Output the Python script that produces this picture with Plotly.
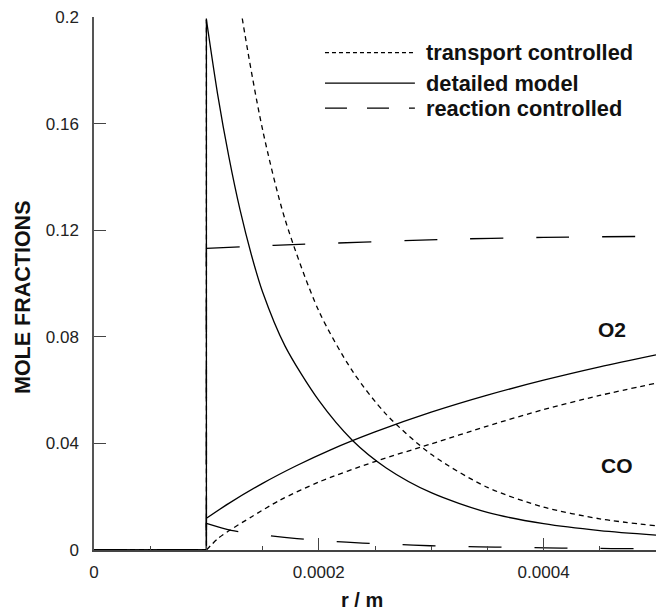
import plotly.graph_objects as go

# ---------------- data ----------------
r_inside = [0, 0.0001]   # inside the particle every fraction is 0

# outer profiles: radius r [m], mole fractions
r_co_det = [0.0001, 0.00011, 0.00012, 0.00013, 0.00014, 0.00015, 0.00017, 0.0002,
            0.00023, 0.00026, 0.0003, 0.00035, 0.0004, 0.00045, 0.0005]
y_co_det = [0.199, 0.171, 0.1475, 0.1275, 0.1108, 0.0968, 0.0765, 0.0561,
            0.0411, 0.0308, 0.0215, 0.0141, 0.0099, 0.0073, 0.0056]

r_o2_det = [0.0001, 0.00012, 0.00015, 0.00018, 0.00021, 0.00025, 0.0003, 0.00035,
            0.0004, 0.00045, 0.0005]
y_o2_det = [0.0119, 0.0175, 0.025, 0.0316, 0.0375, 0.0443, 0.0517, 0.0581,
            0.0637, 0.0687, 0.0732]

r_co_tr = [0.0001, 0.000115, 0.0001317, 0.00015, 0.00017, 0.0002, 0.00023, 0.00026,
           0.0003, 0.00035, 0.0004, 0.00045, 0.0005]
y_co_tr = [0.31, 0.25, 0.2, 0.1577, 0.124, 0.0897, 0.0671, 0.0509,
           0.0359, 0.0235, 0.0161, 0.0117, 0.0091]

r_o2_tr = [0.0001, 0.00011, 0.00012, 0.00014, 0.000165, 0.0002, 0.00025, 0.0003,
           0.00035, 0.0004, 0.00045, 0.0005]
y_o2_tr = [0, 0.0042, 0.0072, 0.0124, 0.0186, 0.0255, 0.0332, 0.0398,
           0.0465, 0.0527, 0.058, 0.0626]

r_o2_re = [0.0001, 0.00016, 0.0003167, 0.0004, 0.0005]
y_o2_re = [0.1132, 0.1143, 0.1166, 0.1173, 0.1177]

r_co_re = [0.0001, 0.000122, 0.0001522, 0.0001806, 0.00021, 0.000239, 0.000269,
           0.000299, 0.000328, 0.000357, 0.000388, 0.000416, 0.000447, 0.000475, 0.0005]
y_co_re = [0.0100, 0.0074, 0.0056, 0.0043, 0.0033, 0.0026, 0.0021,
           0.0016, 0.0013, 0.0011, 0.0009, 0.0007, 0.0006, 0.0005, 0.0004]

x_tickvals = [0, 0.0002, 0.0004]
x_ticktext = ["0", "0.0002", "0.0004"]
y_tickvals = [0, 0.04, 0.08, 0.12, 0.16, 0.2]
y_ticktext = ["0", "0.04", "0.08", "0.12", "0.16", "0.2"]

legend_names = ["transport controlled", "detailed model", "reaction controlled"]
species_labels = ["O2", "CO"]
species_pos = [(0.000461, 0.0827), (0.000465, 0.0317)]

# ---------------- styling ----------------
FONT = "Liberation Sans, Arial, sans-serif"
LW = 1.3
SHORT = "5px,4px"
LONG = "33px,33px"

fig = go.Figure()

def add(r, y, dash):
    # zero inside the particle, jump at the surface, then the outer profile
    fig.add_trace(go.Scatter(x=r_inside + [r[0]], y=[0, 0, y[0]], mode="lines",
                             line=dict(color="black", width=LW, dash=dash),
                             showlegend=False, hoverinfo="skip"))
    fig.add_trace(go.Scatter(x=r, y=y, mode="lines", line_shape="spline",
                             line=dict(color="black", width=LW, dash=dash, smoothing=0.8),
                             showlegend=False, hoverinfo="skip"))

add(r_o2_re, y_o2_re, LONG)
add(r_co_re, y_co_re, LONG)
add(r_co_tr, y_co_tr, SHORT)
add(r_o2_tr, y_o2_tr, SHORT)
add(r_co_det, y_co_det, "solid")
add(r_o2_det, y_o2_det, "solid")

# legend drawn manually (long sample lines as in the reference)
L_X0, L_X1, T_X = 0.411, 0.571, 0.587
rows_y = [0.933, 0.876, 0.829]
dashes = ["4px,3px", "solid", "22px,20px"]
for name, yy, d in zip(legend_names, rows_y, dashes):
    fig.add_shape(type="line", xref="paper", yref="paper", x0=L_X0, x1=L_X1, y0=yy, y1=yy,
                  line=dict(color="black", width=LW, dash=d))
    fig.add_annotation(xref="paper", yref="paper", x=T_X, y=yy, text=f"<b>{name}</b>",
                       showarrow=False, xanchor="left", yanchor="middle",
                       font=dict(family=FONT, size=21.8, color="#111"))

for lab, (px, py) in zip(species_labels, species_pos):
    fig.add_annotation(x=px, y=py, text=f"<b>{lab}</b>", showarrow=False,
                       xanchor="center", yanchor="middle",
                       font=dict(family=FONT, size=21, color="#111"))

# axis titles
fig.add_annotation(xref="paper", yref="paper", x=0.477, y=-0.093, text="<b>r / m</b>",
                   showarrow=False, xanchor="center", yanchor="middle",
                   font=dict(family=FONT, size=20, color="#111"))
fig.add_annotation(xref="paper", yref="paper", x=-0.126, y=0.475, text="<b>MOLE FRACTIONS</b>",
                   showarrow=False, textangle=-90, xanchor="center", yanchor="middle",
                   font=dict(family=FONT, size=21.5, color="#111"))

fig.update_xaxes(range=[0, 0.0005], showgrid=False, zeroline=False,
                 showline=True, linecolor="#444", linewidth=1.5,
                 ticks="inside", ticklen=12, tickwidth=1, tickcolor="#444",
                 tickvals=x_tickvals, ticktext=x_ticktext,
                 ticklabelstandoff=6,
                 tickfont=dict(family=FONT, size=17, color="#222"),
                 minor=dict(dtick=0.00005, tick0=0, ticks="inside", ticklen=4,
                            tickwidth=1, tickcolor="#444", showgrid=False))
fig.update_yaxes(range=[0, 0.2], showgrid=False, zeroline=False,
                 showline=True, linecolor="#555", linewidth=1.5,
                 ticks="inside", ticklen=12, tickwidth=1, tickcolor="#444",
                 tickvals=y_tickvals, ticktext=y_ticktext,
                 ticklabelstandoff=10,
                 tickfont=dict(family=FONT, size=17, color="#222"))

fig.update_layout(width=664, height=612,
                  margin=dict(l=94, r=8, t=13, b=62),
                  paper_bgcolor="white", plot_bgcolor="white",
                  showlegend=False)

fig.write_html("out.html")
